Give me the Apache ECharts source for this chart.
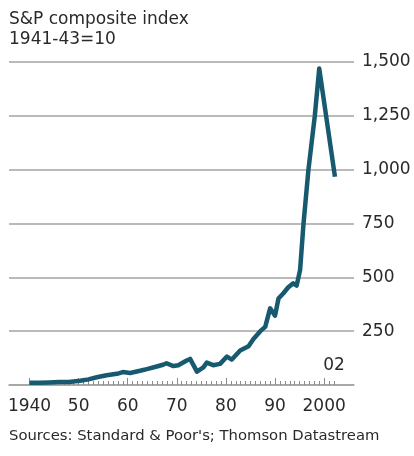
<!DOCTYPE html>
<html>
<head>
<meta charset="utf-8">
<title>S&amp;P composite index</title>
<script src="https://cdn.jsdelivr.net/npm/echarts@6/dist/echarts.min.js"></script>
<style>
  html, body { margin: 0; padding: 0; background: #ffffff; }
  #chart { width: 414px; height: 456px; }
</style>
</head>
<body>
<div id="chart"></div>
<script>
// S&P composite index (1941-43 = 10), sampled points by year
const years = [1940, 1942, 1944, 1946, 1948, 1950.3, 1952, 1953.7, 1955.7, 1957.8,
  1959, 1960.5, 1962.5, 1963.9, 1965.9, 1967.2, 1967.9, 1969.3, 1970.3, 1972,
  1972.7, 1974.1, 1975.4, 1976.1, 1977.4, 1978.8, 1980.2, 1981.2, 1982.9, 1984.6,
  1985.6, 1987, 1988, 1989, 1990, 1990.7, 1991.7, 1992.7, 1993.7, 1994.4,
  1995.1, 1995.8, 1996.8, 1998.1, 1999.0, 2002.2];
const indexValues = [11, 10, 12, 14, 14, 20, 26, 36, 45, 52,
  60, 56, 66, 74, 86, 94, 101, 88, 92, 114,
  121, 62, 82, 104, 92, 98, 132, 118, 160, 180,
  214, 250, 270, 356, 322, 402, 426, 454, 472, 462,
  534, 750, 1000, 1250, 1470, 967];

// Axis ticks and labels
const yTicks = [0, 250, 500, 750, 1000, 1250, 1500];
const decadeLabels = [1940, 1950, 1960, 1970, 1980, 1990, 2000];
const lastYear = 2002;
const yearTicks = [];
for (let y = 1940; y <= lastYear; y++) yearTicks.push(y);

const FONT = 'DejaVu Sans';
const TEXT = '#2a2a2a';
const GRID = '#a3a3a3';
const LINE = '#175a70';

const chart = echarts.init(document.getElementById('chart'), null, { renderer: 'canvas' });

const xRange = { min: 1935.82, max: 2006.08 };

chart.setOption({
  animation: false,
  backgroundColor: '#ffffff',
  textStyle: { fontFamily: FONT },
  title: [
    {
      text: 'S&P composite index\n1941-43=10',
      left: 9, top: 10, padding: 0,
      textStyle: { fontFamily: FONT, fontSize: 17, fontWeight: 'normal', color: TEXT, lineHeight: 20 }
    },
    {
      text: "Sources: Standard & Poor's; Thomson Datastream",
      left: 9, top: 429, padding: 0,
      textStyle: { fontFamily: FONT, fontSize: 14.8, fontWeight: 'normal', color: TEXT }
    }
  ],
  grid: { left: 9, right: 60, top: 62, bottom: 71, containLabel: false },
  xAxis: [
    {
      type: 'value', position: 'bottom', min: xRange.min, max: xRange.max,
      axisLine: { show: true, lineStyle: { color: GRID, width: 1.5 } },
      axisTick: { show: true, inside: true, length: 4, customValues: yearTicks,
        lineStyle: { color: '#8a8a8a', width: 1 } },
      axisLabel: {
        customValues: decadeLabels, margin: 13, fontFamily: FONT, fontSize: 17, color: TEXT,
        formatter: v => (v === 1940 || v === 2000) ? String(v) : String(v).slice(2)
      },
      splitLine: { show: false }
    },
    {
      type: 'value', position: 'bottom', offset: 0, min: xRange.min, max: xRange.max,
      axisLine: { show: false },
      axisTick: { show: true, inside: true, length: 7, customValues: decadeLabels,
        lineStyle: { color: '#8a8a8a', width: 1 } },
      axisLabel: {
        customValues: [lastYear], inside: true, margin: 11, fontFamily: FONT, fontSize: 17, color: TEXT,
        formatter: v => String(v).slice(2)
      },
      splitLine: { show: false }
    }
  ],
  yAxis: {
    type: 'value', position: 'right', min: yTicks[0], max: yTicks[yTicks.length - 1], interval: 250,
    axisLine: { show: false },
    axisTick: { show: false },
    axisLabel: {
      margin: 8, fontFamily: FONT, fontSize: 17, color: TEXT,
      formatter: v => v === 0 ? '' : v.toLocaleString('en-US')
    },
    splitLine: { show: true, lineStyle: { color: GRID, width: 1.5 } }
  },
  series: [{
    type: 'line',
    xAxisIndex: 0,
    data: years.map((y, i) => [y, indexValues[i]]),
    showSymbol: false,
    symbol: 'none',
    lineStyle: { color: LINE, width: 4.5, join: 'round' },
    z: 5
  }]
});
</script>
</body>
</html>
